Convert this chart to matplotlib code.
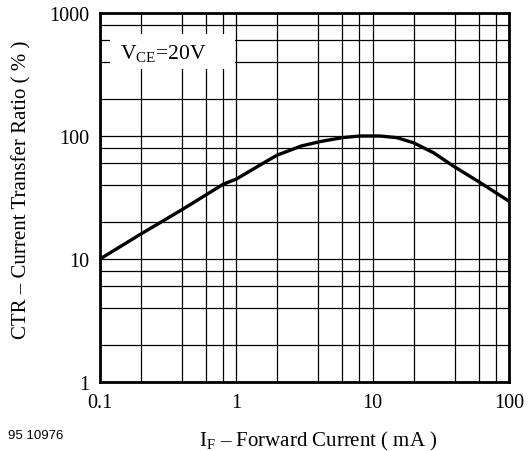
import numpy as np
import matplotlib
matplotlib.use('Agg')
import matplotlib.pyplot as plt
from matplotlib.patches import Rectangle
from matplotlib.ticker import FixedLocator, NullFormatter

plt.rcParams['font.family'] = ['Liberation Serif', 'DejaVu Serif']
plt.rcParams['mathtext.fontset'] = 'custom'
plt.rcParams['mathtext.rm'] = 'Liberation Serif'

# Data
i_f = [0.1, 0.2, 0.4, 0.8, 1.0, 1.65, 2.0, 3.0, 4.1, 6.0, 8.1, 11.3, 15.0, 20.0, 28.0, 39.0, 61.0, 100.0]
ctr = [10.0, 16.0, 25.2, 40.5, 44.7, 62.0, 70.0, 83.0, 90.0, 97.0, 100.0, 100.0, 97.0, 88.0, 73.0, 57.0, 42.0, 29.5]

x_ticks = [0.1, 1, 10, 100]
x_tick_labels = ['0.1', '1', '10', '100']
y_ticks = [1, 10, 100, 1000]
y_tick_labels = ['1', '10', '100', '1000']
minor_steps = [2, 4, 6, 8]

fig = plt.figure(figsize=(5.28, 4.52), dpi=100)
ax = fig.add_axes([100 / 528, 1 - 383 / 452, 409 / 528, 369 / 452])

ax.set_xscale('log')
ax.set_yscale('log')
ax.set_xlim(0.1, 100)
ax.set_ylim(1, 1000)

x_minor = [d * s for d in [0.1, 1, 10] for s in minor_steps]
y_minor = [d * s for d in [1, 10, 100] for s in minor_steps]
ax.xaxis.set_major_locator(FixedLocator(x_ticks))
ax.yaxis.set_major_locator(FixedLocator(y_ticks))
ax.xaxis.set_minor_locator(FixedLocator(x_minor))
ax.yaxis.set_minor_locator(FixedLocator(y_minor))
ax.xaxis.set_minor_formatter(NullFormatter())
ax.yaxis.set_minor_formatter(NullFormatter())
ax.set_xticklabels(x_tick_labels)
ax.set_yticklabels(y_tick_labels)
ax.tick_params(which='both', length=0, labelsize=14.5)
ax.tick_params(axis='x', pad=8)
ax.tick_params(axis='y', pad=8)

ax.grid(which='both', color='black', lw=0.9)
ax.set_axisbelow(True)

# white box for the condition label
ax.add_patch(Rectangle((0.118, 350), 0.98 - 0.118, 675 - 350,
                       facecolor='white', edgecolor='none', zorder=1.5))
ax.text(0.29, 470, 'V$_{\\mathrm{CE}}$=20V', fontsize=15.5, ha='center', va='center', zorder=3)

ax.plot(i_f, ctr, color='black', lw=2.4, zorder=4, solid_capstyle='round')

for s in ax.spines.values():
    s.set_linewidth(2)
    s.set_zorder(5)

fig.text(22 / 528, 1 - 190 / 452, 'CTR – Current Transfer Ratio ( % )', fontsize=15,
         rotation=90, ha='center', va='center')
fig.text(318 / 528, 1 - 446 / 452, 'I$_{\\mathrm{F}}$ – Forward Current ( mA )',
         fontsize=15, ha='center', va='baseline')
fig.text(8 / 528, 1 - 436 / 452, '95 10976', fontsize=9.5, family='Liberation Sans',
         ha='left', va='center')

fig.savefig('out.png', dpi=100)
